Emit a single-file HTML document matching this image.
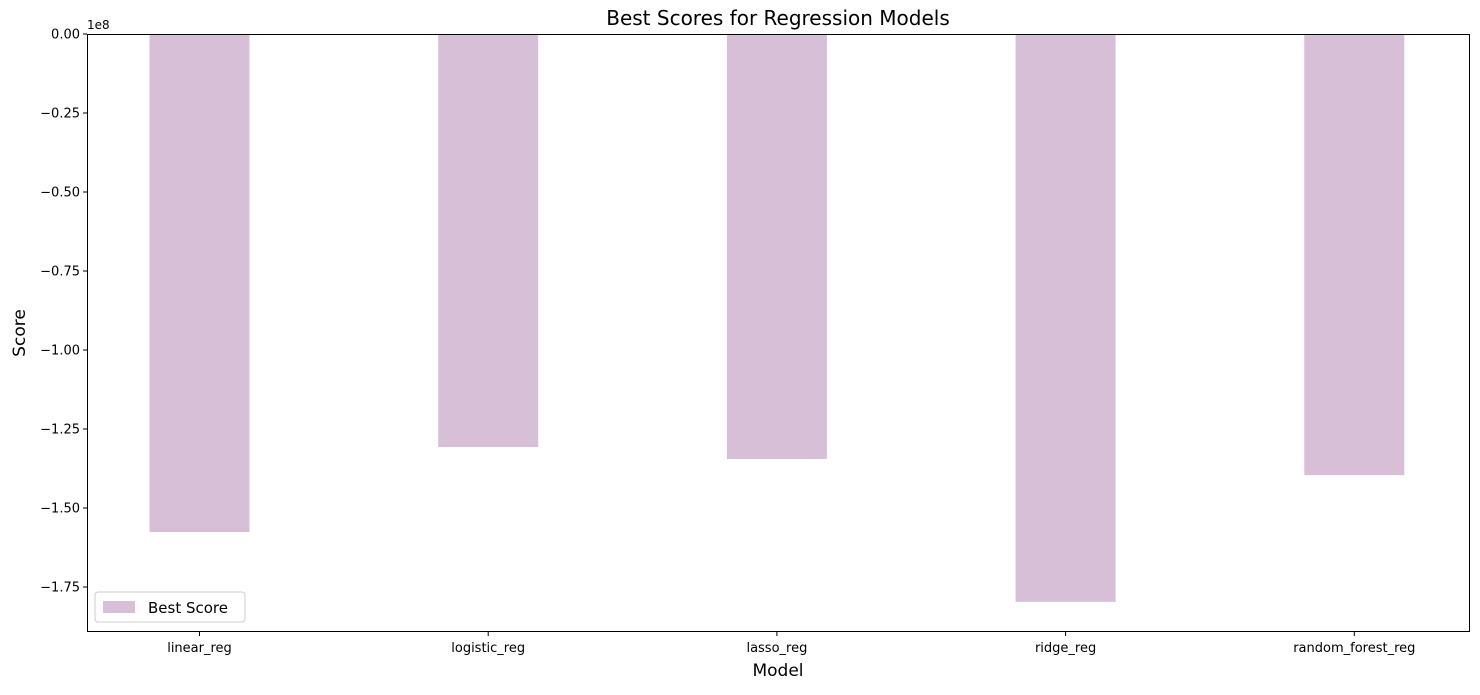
<!DOCTYPE html>
<html><head><meta charset="utf-8">
<style>
body{margin:0;background:#fff;font-family:"Liberation Sans","DejaVu Sans",sans-serif;}
svg text{font-family:"DejaVu Sans","Liberation Sans",sans-serif;}
</style></head>
<body>
<svg id="chart" width="1480" height="690" xmlns="http://www.w3.org/2000/svg">
<text x="778" y="25" font-size="20" text-anchor="middle">Best Scores for Regression Models</text>
<text transform="translate(25,333) rotate(-90)" font-size="17" text-anchor="middle">Score</text>
<text x="778" y="676" font-size="17" text-anchor="middle">Model</text>
<text x="87" y="29" font-size="12">1e8</text>
<g id="bars"></g><g id="ticks"></g>
<rect x="87.5" y="34.5" width="1382" height="597" fill="none" stroke="#000" stroke-width="1"/>
<g>
<rect x="95" y="592" width="150" height="30" rx="3" fill="#fff" stroke="#ccc"/>
<rect x="103" y="601" width="32" height="12" fill="#d8bfd8"/>
<text x="148" y="613" font-size="15">Best Score</text>
</g>
</svg>
<script>
const categories=["linear_reg","logistic_reg","lasso_reg","ridge_reg","random_forest_reg"];
const scores=[-1.576e8,-1.307e8,-1.345e8,-1.797e8,-1.396e8];
const yTicks=[0,-0.25,-0.5,-0.75,-1.0,-1.25,-1.5,-1.75];
const yTickLabels=["0.00","\u22120.25","\u22120.50","\u22120.75","\u22121.00","\u22121.25","\u22121.50","\u22121.75"];
const NS="http://www.w3.org/2000/svg";
const y=v=>34+(-v/1e8)*316;
const x=i=>199.5+i*288.7;
const bars=document.getElementById('bars'),ticks=document.getElementById('ticks');
categories.forEach((c,i)=>{
 const r=document.createElementNS(NS,'rect');
 
 
 r.setAttribute('x',x(i)-50);r.setAttribute('width',100);
 r.setAttribute('y',y(0));r.setAttribute('height',y(scores[i])-y(0));
 r.setAttribute('fill','#d8bfd8');bars.appendChild(r);
 const l=document.createElementNS(NS,'line');
 
 
 l.setAttribute('x1',x(i));l.setAttribute('x2',x(i));l.setAttribute('y1',632);l.setAttribute('y2',636);l.setAttribute('stroke','#000');ticks.appendChild(l);
 const t=document.createElementNS(NS,'text');
 
 
 t.setAttribute('x',x(i));t.setAttribute('y',652);t.setAttribute('font-size','13');t.setAttribute('text-anchor','middle');t.textContent=c;ticks.appendChild(t);
});
yTicks.forEach((v,i)=>{
 const yy=y(v*1e8);
 const l=document.createElementNS(NS,'line');
 
 
 l.setAttribute('x1',83);l.setAttribute('x2',87);l.setAttribute('y1',yy);l.setAttribute('y2',yy);l.setAttribute('stroke','#000');ticks.appendChild(l);
 const t=document.createElementNS(NS,'text');
 
 
 t.setAttribute('x',80);t.setAttribute('y',yy+4.5);t.setAttribute('font-size','13');t.setAttribute('text-anchor','end');t.textContent=yTickLabels[i];ticks.appendChild(t);
});
</script>
</body></html>
